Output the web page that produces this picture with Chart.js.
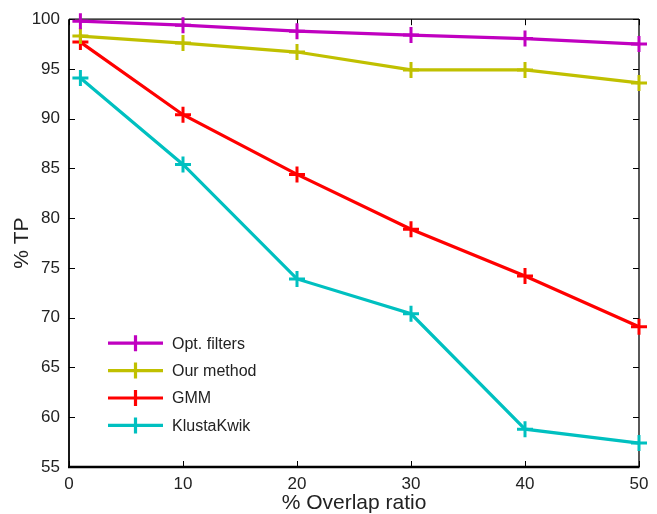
<!DOCTYPE html>
<html>
<head>
<meta charset="utf-8">
<script src="https://cdn.jsdelivr.net/npm/chart.js@4.4.1/dist/chart.umd.min.js"></script>
<style>
  html, body { margin: 0; padding: 0; background: #fff; }
  #wrap { width: 657px; height: 514px; }
</style>
</head>
<body>
<div id="wrap"><canvas id="c" width="657" height="514"></canvas></div>
<script>
// ---- data ----
const overlap = [1, 10, 20, 30, 40, 50];
const seriesNames = ["Opt. filters", "Our method", "GMM", "KlustaKwik"];
const optFilters = [99.8, 99.4, 98.8, 98.4, 98.05, 97.5];
const ourMethod  = [98.3, 97.6, 96.7, 94.9, 94.9, 93.6];
const gmm        = [97.7, 90.4, 84.4, 78.9, 74.2, 69.1];
const klusta     = [94.1, 85.4, 73.9, 70.4, 58.8, 57.4];
const seriesColors = ["#c000c0", "#c0c000", "#ff0000", "#00c0c0"];
const xTitle = "% Overlap ratio";
const yTitle = "% TP";

const allValues = [optFilters, ourMethod, gmm, klusta];

const datasets = allValues.map((vals, i) => ({
  label: seriesNames[i],
  data: overlap.map((x, j) => ({ x: x, y: vals[j] })),
  borderColor: seriesColors[i],
  backgroundColor: seriesColors[i],
  borderWidth: 3.2,
  pointStyle: 'cross',
  pointRadius: 8,
  pointBorderWidth: 3,
  pointHoverRadius: 8,
  tension: 0,
  clip: false
}));

const FONT = "'Liberation Sans', Arial, Helvetica, sans-serif";

// frame + inward ticks on all sides
const framePlugin = {
  id: 'frame',
  beforeDatasetsDraw(chart) {
    const { ctx, chartArea: a, scales } = chart;
    ctx.save();
    ctx.strokeStyle = '#000';
    const tl = 6;
    ctx.lineWidth = 1;
    scales.x.ticks.forEach(t => {
      const px = Math.round(scales.x.getPixelForValue(t.value)) + 0.5;
      ctx.beginPath();
      ctx.moveTo(px, a.bottom); ctx.lineTo(px, a.bottom - tl);
      ctx.moveTo(px, a.top); ctx.lineTo(px, a.top + tl);
      ctx.stroke();
    });
    scales.y.ticks.forEach(t => {
      const py = Math.round(scales.y.getPixelForValue(t.value)) + 0.5;
      ctx.beginPath();
      ctx.moveTo(a.left, py); ctx.lineTo(a.left + tl, py);
      ctx.moveTo(a.right, py); ctx.lineTo(a.right - tl, py);
      ctx.stroke();
    });
    ctx.lineWidth = 1.3;
    ctx.beginPath();
    ctx.moveTo(a.left, a.top); ctx.lineTo(a.right, a.top);
    ctx.moveTo(a.right, a.top); ctx.lineTo(a.right, a.bottom);
    ctx.stroke();
    ctx.lineWidth = 1.8;
    ctx.beginPath();
    ctx.moveTo(a.left, a.top); ctx.lineTo(a.left, a.bottom);
    ctx.stroke();
    ctx.lineWidth = 2.6;
    ctx.beginPath();
    ctx.moveTo(a.left - 1, a.bottom); ctx.lineTo(a.right + 0.5, a.bottom);
    ctx.stroke();
    ctx.restore();
  }
};

// legend inside plot area (lower left)
const insideLegend = {
  id: 'insideLegend',
  afterDatasetsDraw(chart) {
    const { ctx, chartArea: a } = chart;
    ctx.save();
    const x0 = a.left + 39, x1 = a.left + 94, xm = (x0 + x1) / 2;
    const yStart = a.top + 324, dy = 27.4;
    ctx.font = "16px " + FONT;
    ctx.textBaseline = 'middle';
    ctx.textAlign = 'left';
    chart.data.datasets.forEach((ds, i) => {
      const y = yStart + i * dy;
      ctx.strokeStyle = ds.borderColor;
      ctx.lineWidth = 3.2;
      ctx.beginPath();
      ctx.moveTo(x0, y); ctx.lineTo(x1, y);
      ctx.moveTo(xm, y - 8); ctx.lineTo(xm, y + 8);
      ctx.stroke();
      ctx.fillStyle = '#222';
      ctx.fillText(ds.label, a.left + 103, y + 1);
    });
    ctx.restore();
  }
};

new Chart(document.getElementById('c'), {
  type: 'line',
  data: { datasets: datasets },
  options: {
    responsive: false,
    animation: false,
    devicePixelRatio: 1,
    layout: { padding: { top: 18, right: 18, left: 0, bottom: 0 } },
    plugins: { legend: { display: false }, tooltip: { enabled: false } },
    scales: {
      x: {
        type: 'linear', min: 0, max: 50,
        grid: { display: false, drawTicks: false },
        border: { display: false },
        ticks: { stepSize: 10, color: '#222', font: { family: FONT, size: 17 }, padding: 7, maxRotation: 0 },
        title: { display: true, text: xTitle, color: '#222', font: { family: FONT, size: 21 }, padding: { top: 0, bottom: -2 } },
        afterFit(s) { s.height = 47; }
      },
      y: {
        min: 55, max: 100,
        grid: { display: false, drawTicks: false },
        border: { display: false },
        ticks: { stepSize: 5, color: '#222', font: { family: FONT, size: 17 }, padding: 9 },
        title: { display: true, text: yTitle, color: '#222', font: { family: FONT, size: 21 }, padding: { top: 10, bottom: 0 } },
        afterFit(s) { s.width = 69; }
      }
    }
  },
  plugins: [framePlugin, insideLegend]
});
</script>
</body>
</html>
